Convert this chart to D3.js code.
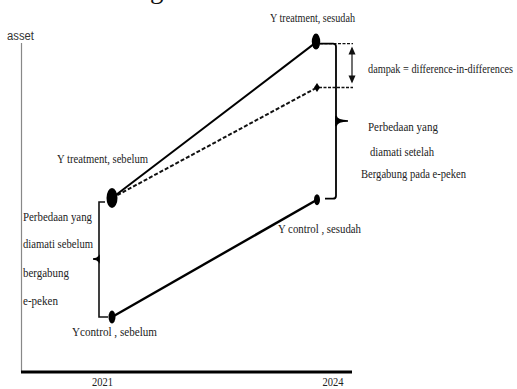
<!DOCTYPE html>
<html>
<head>
<meta charset="utf-8">
<script src="https://cdn.jsdelivr.net/npm/d3@7"></script>
<style>
  body { margin: 0; background: #fff; }
  svg { display: block; }
  .lbl { font-family: "Liberation Serif", "Times New Roman", serif; font-size: 12px; fill: #222; }
  .axis-lbl { font-family: "Liberation Sans", Arial, sans-serif; font-size: 12px; fill: #333; }
</style>
</head>
<body>
<div class="chart"></div>
<script>
// Chart data
const years = [2021, 2024];
const treatment = [45, 91];          // Y treatment sebelum / sesudah
const control = [10, 44.5];          // Y control sebelum / sesudah
const counterfactual = [45, 77.5];   // dashed trend of treatment without e-peken
const tickLabels = ["2021", "2024"];

function drawChart() {
    const width = 517;
    const height = 389;

    const svg = d3.select(".chart")
        .append("svg")
        .attr("width", width)
        .attr("height", height);

    // Scales
    const x = d3.scaleLinear().domain([2021, 2024]).range([112, 317]);
    const y = d3.scaleLinear().domain([0, 100]).range([351, 11]);

    // Cut-off title at the very top (only the descender shows)
    svg.append("text")
        .attr("x", 150)
        .attr("y", -2)
        .attr("font-family", "Liberation Serif, serif")
        .attr("font-size", 27)
        .attr("fill", "#111")
        .text("g");

    // Axes
    svg.append("line")
        .attr("x1", 21.5).attr("y1", 43)
        .attr("x2", 21.5).attr("y2", 372)
        .attr("stroke", "#888").attr("stroke-width", 1.2);

    svg.append("line")
        .attr("x1", 21).attr("y1", 372)
        .attr("x2", 352).attr("y2", 372)
        .attr("stroke", "#000").attr("stroke-width", 2.8);

    svg.append("text")
        .attr("class", "axis-lbl")
        .attr("x", 7).attr("y", 40)
        .attr("textLength", 27).attr("lengthAdjust", "spacingAndGlyphs")
        .text("asset");

    const tickDx = [-9.5, 16];
    svg.selectAll(".tick-lbl")
        .data(tickLabels)
        .enter()
        .append("text")
        .attr("class", "lbl")
        .attr("x", (d, i) => x(years[i]) + tickDx[i])
        .attr("y", 386)
        .attr("text-anchor", "middle")
        .attr("textLength", 21).attr("lengthAdjust", "spacingAndGlyphs")
        .text(d => d);

    // Lines
    const line = d3.line()
        .x(d => x(d[0]))
        .y(d => y(d[1]));

    svg.append("path")
        .datum(d3.zip(years, counterfactual))
        .attr("d", line)
        .attr("fill", "none")
        .attr("stroke", "#111")
        .attr("stroke-width", 2)
        .attr("stroke-dasharray", "4,2");

    svg.append("path")
        .datum(d3.zip(years, treatment))
        .attr("d", line)
        .attr("fill", "none")
        .attr("stroke", "#000")
        .attr("stroke-width", 2);

    svg.append("path")
        .datum(d3.zip(years, control))
        .attr("d", line)
        .attr("fill", "none")
        .attr("stroke", "#000")
        .attr("stroke-width", 2.4);

    // Dashed box and arrow for the impact
    const tx = x(2024), ty = y(treatment[1]), cfy = y(counterfactual[1]);
    svg.append("path")
        .attr("d", `M${tx + 3},${ty + 2} L353,${ty + 2} M${tx + 2},${cfy} L353,${cfy}`)
        .attr("fill", "none")
        .attr("stroke", "#111")
        .attr("stroke-width", 1.3)
        .attr("stroke-dasharray", "3,1.5");

    svg.append("line")
        .attr("x1", 352).attr("y1", ty + 7)
        .attr("x2", 352).attr("y2", cfy - 6)
        .attr("stroke", "#111").attr("stroke-width", 1.2);
    svg.append("path")
        .attr("d", `M348.5,${ty + 13} L352,${ty + 5} L355.5,${ty + 13} Z M348.5,${cfy - 12} L352,${cfy - 4} L355.5,${cfy - 12} Z`)
        .attr("fill", "#111");

    // Right brace (difference after)
    const cx2 = x(2024), cy2 = y(control[1]);
    svg.append("path")
        .attr("d", `M${cx2 + 3},${ty + 2} L333,${ty + 2} Q336,${ty + 2} 336,${ty + 5} L336,${cy2 - 4} Q336,${cy2 - 1} 333,${cy2 - 1} L${cx2 + 8},${cy2 - 1}`)
        .attr("fill", "none")
        .attr("stroke", "#000")
        .attr("stroke-width", 1.8);
    svg.append("path")
        .attr("d", "M336,116 Q337,121 348,121 Q337,121 336,126 Z")
        .attr("fill", "#000").attr("stroke", "#000").attr("stroke-width", 1.5);

    // Left brace (difference before)
    const by1 = y(treatment[0]), by0 = y(control[0]);
    svg.append("path")
        .attr("d", `M105,${by1 + 4} L99,${by1 + 4} L99,${by0} L108,${by0}`)
        .attr("fill", "none")
        .attr("stroke", "#111")
        .attr("stroke-width", 1.6);
    svg.append("path")
        .attr("d", "M99,256.5 Q97,259 93,259 Q97,259 99,261.5 Z")
        .attr("fill", "#000").attr("stroke", "#000").attr("stroke-width", 1.5);

    // Markers
    const markers = [
        { x: x(2021), y: y(treatment[0]), rx: 5.5, ry: 10 },
        { x: x(2024) - 1, y: y(treatment[1]), rx: 4.2, ry: 8 },
        { x: x(2021), y: y(control[0]), rx: 3.5, ry: 6.5 },
        { x: x(2024), y: y(control[1]), rx: 3, ry: 5.5 }
    ];
    svg.selectAll(".marker")
        .data(markers)
        .enter()
        .append("ellipse")
        .attr("class", "marker")
        .attr("cx", d => d.x)
        .attr("cy", d => d.y)
        .attr("rx", d => d.rx)
        .attr("ry", d => d.ry)
        .attr("fill", "#000");

    // Counterfactual end marker (small diamond)
    svg.append("path")
        .attr("d", `M${x(2024)},${cfy - 4.5} L${x(2024) + 3},${cfy} L${x(2024)},${cfy + 4.5} L${x(2024) - 3},${cfy} Z`)
        .attr("fill", "#000");

    // Annotations
    const notes = [
        { t: "Y treatment, sesudah", x: 270, y: 22, w: 85 },
        { t: "dampak = difference-in-differences", x: 368, y: 73, w: 145 },
        { t: "Perbedaan yang", x: 368, y: 131, w: 70 },
        { t: "diamati setelah", x: 370, y: 156, w: 64 },
        { t: "Bergabung pada e-peken", x: 361, y: 178, w: 105 },
        { t: "Y control , sesudah", x: 278, y: 233, w: 83 },
        { t: "Y treatment, sebelum", x: 57, y: 163, w: 91 },
        { t: "Perbedaan yang", x: 23, y: 221, w: 69 },
        { t: "diamati sebelum", x: 23, y: 248, w: 70 },
        { t: "bergabung", x: 23, y: 277, w: 46 },
        { t: "e-peken", x: 23, y: 305, w: 35 },
        { t: "Ycontrol , sebelum", x: 72, y: 336, w: 85 }
    ];
    svg.selectAll(".note")
        .data(notes)
        .enter()
        .append("text")
        .attr("class", "lbl")
        .attr("x", d => d.x)
        .attr("y", d => d.y)
        .attr("textLength", d => d.w)
        .attr("lengthAdjust", "spacingAndGlyphs")
        .text(d => d.t);
}

document.addEventListener("DOMContentLoaded", drawChart);
</script>
</body>
</html>
